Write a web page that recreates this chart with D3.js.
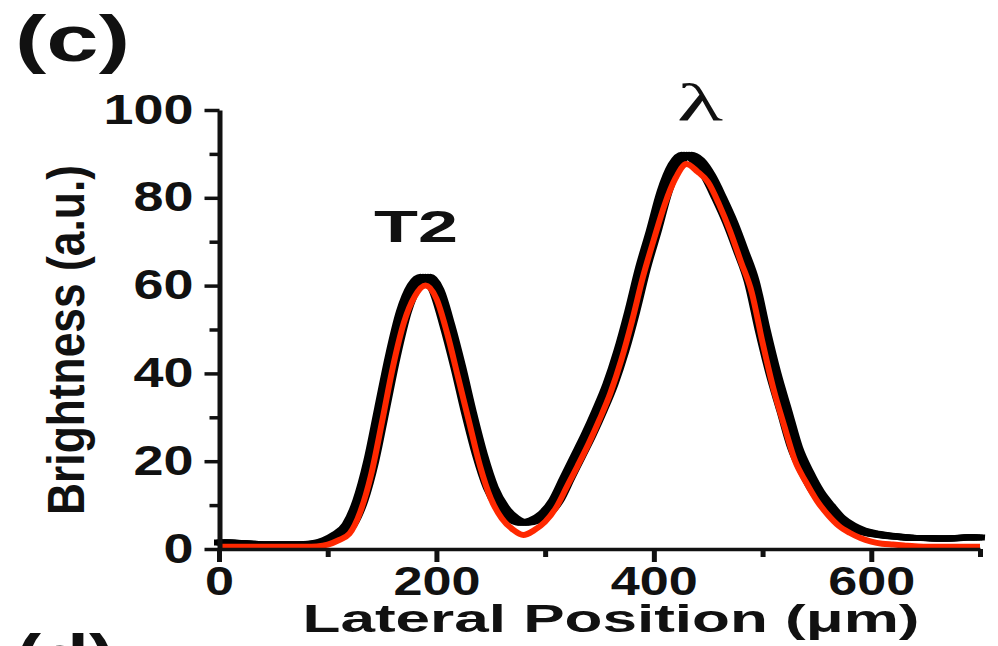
<!DOCTYPE html>
<html>
<head>
<meta charset="utf-8">
<script src="https://cdn.jsdelivr.net/npm/d3@7"></script>
<style>
  body { margin: 0; background: #fff; }
  text { font-family: 'Liberation Sans', Arial, sans-serif; font-weight: bold; fill: #111; }
</style>
</head>
<body>
<div id="chart"></div>
<script>
const w = 998
const h = 646

// lateral position (um)
const positions = [0, 10, 20, 30, 40, 50, 60, 70, 80, 90,
    100, 110, 120, 130, 140, 150, 160, 170, 180, 190,
    200, 210, 220, 230, 240, 250, 260, 270, 280, 290,
    300, 310, 320, 330, 340, 350, 360, 370, 380, 390,
    400, 410, 420, 430, 440, 450, 460, 470, 480, 490,
    500, 510, 520, 530, 540, 550, 560, 570, 580, 590,
    600, 610, 620, 630, 640, 650, 660, 670, 680, 690, 700]

// measured brightness (black)
const measured = [1.5, 1.5, 1.3, 1.2, 1.0, 1.0, 1.0, 1.0, 1.1, 1.3,
    2.0, 3.3, 5.5, 11, 20, 32, 44, 54, 60, 62,
    59, 51, 41.5, 31, 21.5, 14, 9.5, 7, 6, 6.5,
    8, 11, 16, 21, 26, 31.5, 37.5, 45, 54, 64,
    72.5, 81.5, 87.5, 89.8, 88.5, 85, 80, 74.5, 68, 61,
    50, 40, 31.5, 23, 17.5, 13, 9.8, 7, 5.3, 4.2,
    3.6, 3.2, 2.9, 2.7, 2.5, 2.5, 2.4, 2.4, 2.5, 2.7, 2.6]

// fitted curve (red)
const fitted = [0.5, 0.5, 0.5, 0.5, 0.5, 0.5, 0.5, 0.5, 0.5, 0.6,
    1.0, 2.0, 3.5, 8.5, 17, 29, 41.5, 51.5, 57.5, 60,
    57, 49, 39, 29, 19, 11.5, 7, 4.5, 3.2, 4.3,
    6.2, 9.4, 14.2, 19, 24, 29.5, 35.5, 43, 52, 62,
    70.5, 78.5, 84.5, 87.7, 86, 83.5, 78.5, 72.5, 65.5, 58.5,
    47, 36.5, 28, 20, 15.2, 11, 7.8, 5.3, 3.7, 2.5,
    1.7, 1.2, 1.0, 0.8, 0.6, 0.5, 0.5, 0.5, 0.5, 0.5, 0.5]

const xMajor = [0, 200, 400, 600]
const xMinor = [100, 300, 500, 700]
const yMajor = [0, 20, 40, 60, 80, 100]
const yMinor = [10, 30, 50, 70, 90]

const svg = d3.select('#chart')
    .append('svg')
    .attr('width', w)
    .attr('height', h)

const xScale = d3.scaleLinear().domain([0, 700]).range([219, 980])
const yScale = d3.scaleLinear().domain([0, 100]).range([549, 110])

const line = d3.line()
    .x((d, i) => xScale(positions[i]))
    .y(d => yScale(d))
    .curve(d3.curveMonotoneX)

// black data band, drawn a few times side by side to get the wide smeared look
;[-5, -2.5, 0, 2.5, 5].forEach(dx => {
    svg.append('path')
        .datum(measured)
        .attr('d', line)
        .attr('transform', `translate(${dx},0)`)
        .attr('fill', 'none')
        .attr('stroke', '#000')
        .attr('stroke-width', 6)
        .attr('stroke-linejoin', 'round')
})

svg.append('path')
    .datum(fitted)
    .attr('d', line)
    .attr('fill', 'none')
    .attr('stroke', '#ff2800')
    .attr('stroke-width', 6)
    .attr('stroke-linejoin', 'round')

// y axis
const yAxis = svg.append('g')
    .attr('transform', 'translate(219.5,0)')
    .call(d3.axisLeft(yScale).tickValues(yMajor).tickSize(15).tickSizeOuter(0).tickPadding(11))
yAxis.select('.domain').attr('stroke', '#111').attr('stroke-width', 5)
yAxis.selectAll('.tick line').attr('stroke', '#111').attr('stroke-width', 3.5)
yAxis.selectAll('.tick text')
    .attr('font-size', 42)
    .attr('dy', 0)
    .attr('y', 13)
    .attr('textLength', d => String(d).length * 30)
    .attr('lengthAdjust', 'spacingAndGlyphs')

const yAxisMinor = svg.append('g')
    .attr('transform', 'translate(219.5,0)')
    .call(d3.axisLeft(yScale).tickValues(yMinor).tickSize(10).tickFormat(''))
yAxisMinor.select('.domain').remove()
yAxisMinor.selectAll('.tick line').attr('stroke', '#111').attr('stroke-width', 3.5)

// x axis
const xAxis = svg.append('g')
    .attr('transform', 'translate(0,549)')
    .call(d3.axisBottom(xScale).tickValues(xMajor).tickSize(13).tickSizeOuter(0))
xAxis.select('.domain').attr('stroke', '#111').attr('stroke-width', 3.5)
xAxis.selectAll('.tick line').attr('stroke', '#111').attr('stroke-width', 5)
xAxis.selectAll('.tick text')
    .attr('font-size', 41)
    .attr('dy', 0)
    .attr('y', 46)
    .attr('textLength', d => String(d).length * 29)
    .attr('lengthAdjust', 'spacingAndGlyphs')

const xAxisMinor = svg.append('g')
    .attr('transform', 'translate(0,549)')
    .call(d3.axisBottom(xScale).tickValues(xMinor).tickSize(8).tickFormat(''))
xAxisMinor.select('.domain').remove()
xAxisMinor.selectAll('.tick line').attr('stroke', '#111').attr('stroke-width', 5)

// titles
svg.append('text')
    .attr('x', 611)
    .attr('y', 632)
    .attr('text-anchor', 'middle')
    .attr('font-size', 39)
    .attr('textLength', 617)
    .attr('lengthAdjust', 'spacingAndGlyphs')
    .text('Lateral Position (\u03bcm)')

svg.append('text')
    .attr('transform', 'translate(84,340) rotate(-90) scale(1,1.29)')
    .attr('text-anchor', 'middle')
    .attr('font-size', 40)
    .attr('textLength', 350)
    .attr('lengthAdjust', 'spacingAndGlyphs')
    .text('Brightness (a.u.)')

// panel letters
svg.append('text')
    .attr('x', 15)
    .attr('y', 61)
    .attr('font-size', 65)
    .attr('textLength', 115)
    .attr('lengthAdjust', 'spacingAndGlyphs')
    .text('(c)')

svg.append('text')
    .attr('x', 15)
    .attr('y', 680)
    .attr('font-size', 65)
    .attr('textLength', 100)
    .attr('lengthAdjust', 'spacingAndGlyphs')
    .text('(d)')

// peak labels
svg.append('text')
    .attr('x', 416)
    .attr('y', 242)
    .attr('text-anchor', 'middle')
    .attr('font-size', 44)
    .attr('textLength', 84)
    .attr('lengthAdjust', 'spacingAndGlyphs')
    .text('T2')

svg.append('text')
    .attr('x', 700)
    .attr('y', 120)
    .attr('text-anchor', 'middle')
    .attr('font-size', 52)
    .style('font-family', "'Liberation Serif', serif")
    .style('font-weight', 'normal')
    .attr('textLength', 46)
    .attr('lengthAdjust', 'spacingAndGlyphs')
    .text('\u03bb')
</script>
</body>
</html>
